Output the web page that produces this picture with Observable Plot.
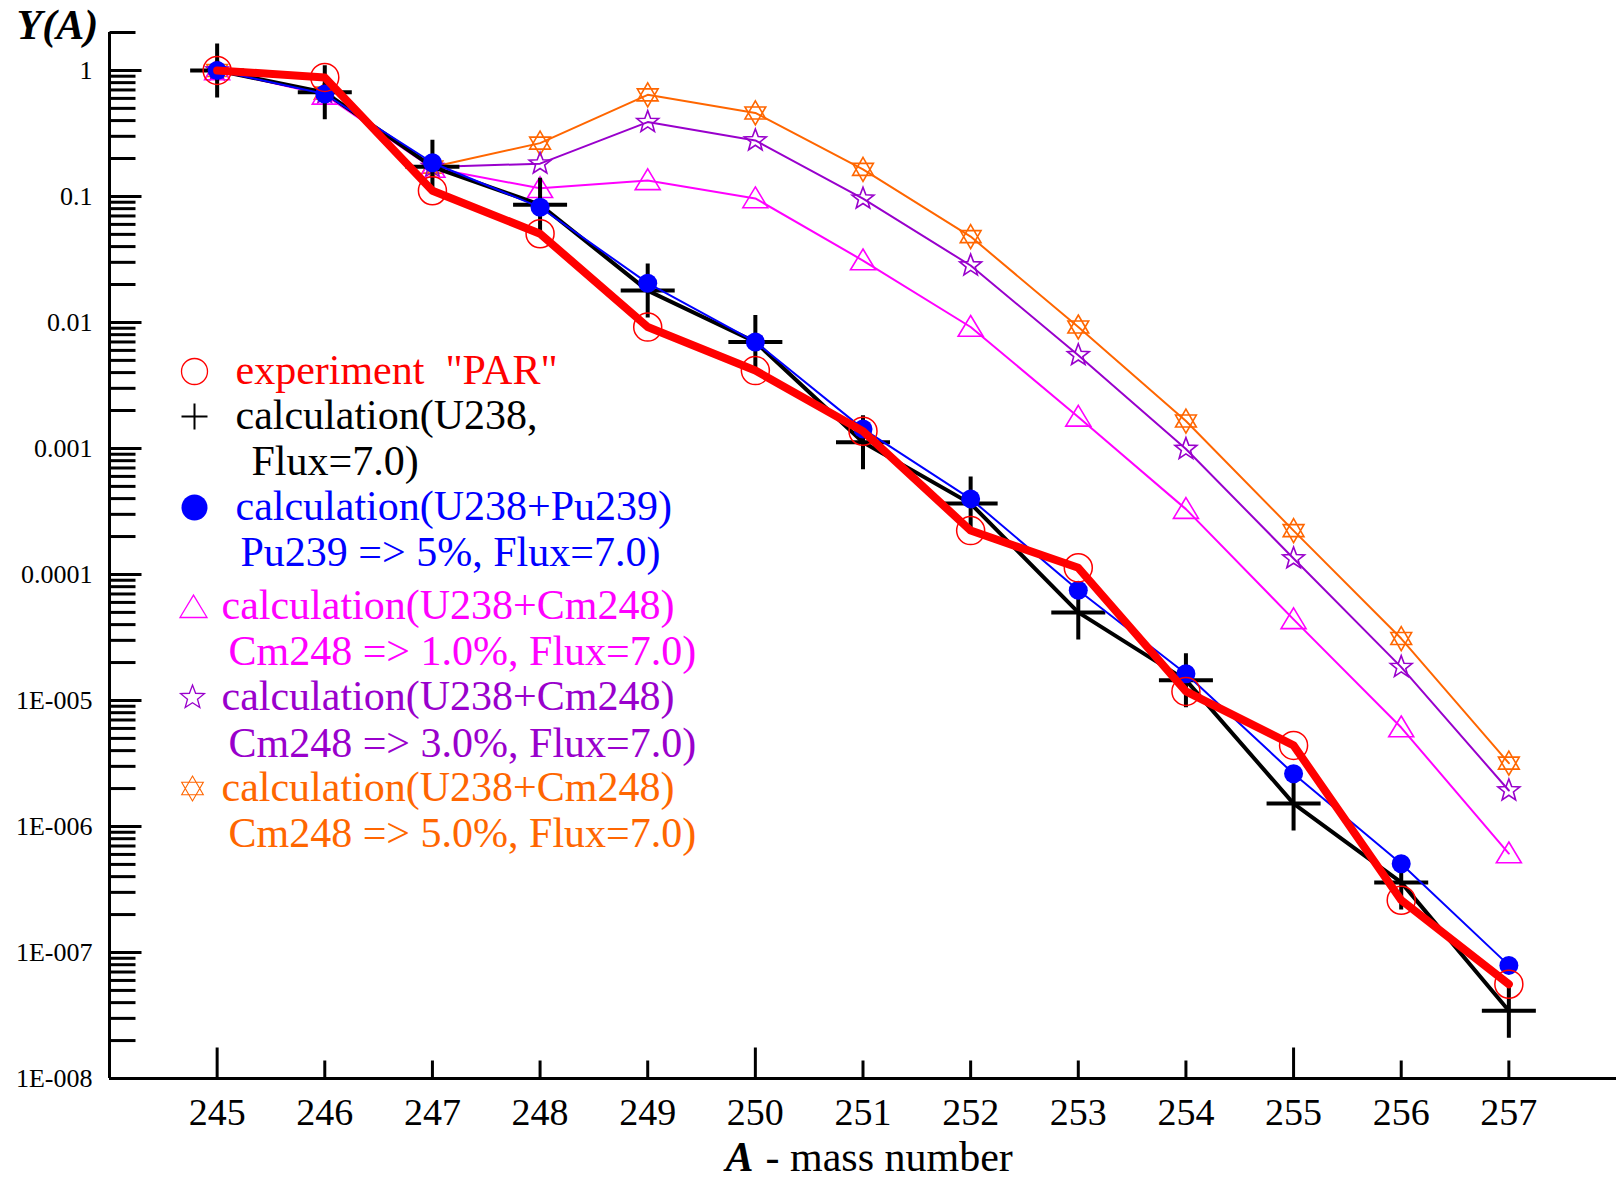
<!DOCTYPE html>
<html>
<head>
<meta charset="utf-8">
<script src="https://cdn.jsdelivr.net/npm/d3@7"></script>
<script src="https://cdn.jsdelivr.net/npm/@observablehq/plot@0.6"></script>
<style>
html, body { margin: 0; padding: 0; background: #ffffff; }
#chart svg { display: block; }
</style>
</head>
<body>
<div id="chart"></div>
<script>
// ---------- data ----------
const massNumbers = [245, 246, 247, 248, 249, 250, 251, 252, 253, 254, 255, 256, 257];
const experimentPAR = [1.0, 0.88, 0.111, 0.0506, 0.0092, 0.00415, 0.00137, 0.000223, 0.000113, 1.18e-5, 4.4e-6, 2.6e-7, 5.6e-8];
const calcU238      = [1.0, 0.67, 0.172, 0.086, 0.0179, 0.0070, 0.00112, 0.000365, 5.0e-5, 1.45e-5, 1.52e-6, 3.6e-7, 3.45e-8];
const calcPu239     = [1.0, 0.65, 0.185, 0.082, 0.0205, 0.0070, 0.00143, 0.000398, 7.5e-5, 1.63e-5, 2.62e-6, 5.06e-7, 7.9e-8];
const calcCm1       = [1.0, 0.64, 0.168, 0.116, 0.134, 0.0964, 0.031, 0.0092, 0.00178, 0.00033, 4.4e-5, 6.1e-6, 6.1e-7];
const calcCm3       = [1.0, 0.66, 0.171, 0.182, 0.389, 0.278, 0.096, 0.0283, 0.0055, 0.00099, 0.000134, 1.84e-5, 1.93e-6];
const calcCm5       = [1.0, 0.66, 0.171, 0.265, 0.64, 0.46, 0.164, 0.048, 0.0092, 0.00165, 0.000223, 3.1e-5, 3.18e-6];

const yMajorTicks = [1, 0.1, 0.01, 0.001, 0.0001, 1e-5, 1e-6, 1e-7, 1e-8];
const yTickLabels = ["1", "0.1", "0.01", "0.001", "0.0001", "1E-005", "1E-006", "1E-007", "1E-008"];
const xTickValues = [245, 246, 247, 248, 249, 250, 251, 252, 253, 254, 255, 256, 257];
const xMajorTicks = [245, 250, 255];
const xDomain = [244, 258];
const yDomain = [1e-8, 2];

const legendTexts = [
  ['experiment\u00a0\u00a0"PAR"'],
  ['calculation(U238,', 'Flux=7.0)'],
  ['calculation(U238+Pu239)', 'Pu239 => 5%, Flux=7.0)'],
  ['calculation(U238+Cm248)', 'Cm248 => 1.0%, Flux=7.0)'],
  ['calculation(U238+Cm248)', 'Cm248 => 3.0%, Flux=7.0)'],
  ['calculation(U238+Cm248)', 'Cm248 => 5.0%, Flux=7.0)']
];

// ---------- symbols ----------
const rOf = s => Math.sqrt(s / Math.PI);
const plusSym = {draw(c, s) { const r = rOf(s); c.moveTo(-r, 0); c.lineTo(r, 0); c.moveTo(0, -r); c.lineTo(0, r); }};
const triSym = {draw(c, s) { const r = rOf(s); c.moveTo(0, -0.92 * r); c.lineTo(r, 0.74 * r); c.lineTo(-r, 0.74 * r); c.closePath(); }};
const star5Sym = {draw(c, s) {
  const R = rOf(s), ri = R * 0.42;
  for (let i = 0; i < 10; i++) {
    const a = -Math.PI / 2 + i * Math.PI / 5, rr = i % 2 ? ri : R;
    const x = rr * Math.cos(a), y = rr * Math.sin(a);
    if (i) c.lineTo(x, y); else c.moveTo(x, y);
  }
  c.closePath();
}};
const hexagramSym = {draw(c, s) {
  const R = rOf(s);
  for (const off of [-Math.PI / 2, Math.PI / 2]) {
    for (let i = 0; i < 3; i++) {
      const a = off + i * 2 * Math.PI / 3, x = R * Math.cos(a), y = R * Math.sin(a);
      if (i) c.lineTo(x, y); else c.moveTo(x, y);
    }
    c.closePath();
  }
}};
const hTick = len => ({draw(c) { c.moveTo(0, 0); c.lineTo(len, 0); }});
const vTick = len => ({draw(c) { c.moveTo(0, 0); c.lineTo(0, -len); }});

// ---------- series styling ----------
const series = [
  {values: calcCm5, color: "#FF6600", width: 2, symbol: hexagramSym, r: 12, fill: "none", sw: 1.6},
  {values: calcCm3, color: "#9900CC", width: 2, symbol: star5Sym, r: 11.5, fill: "none", sw: 1.6},
  {values: calcCm1, color: "#FF00FF", width: 2, symbol: triSym, r: 12.5, fill: "none", sw: 1.6},
  {values: calcU238, color: "#000000", width: 4, symbol: plusSym, r: 27, fill: "none", sw: 4},
  {values: calcPu239, color: "#0000FF", width: 2, symbol: "circle", r: 9.5, fill: "#0000FF", sw: 0},
  {values: experimentPAR, color: "#FF0000", width: 8, symbol: "circle", r: 14, fill: "none", sw: 1.5}
];

const seriesMarks = series.flatMap(s => {
  const rows = massNumbers.map((a, i) => ({a, v: s.values[i]}));
  return [
    Plot.line(rows, {x: "a", y: "v", stroke: s.color, strokeWidth: s.width, strokeLinejoin: "round"}),
    Plot.dot(rows, {x: "a", y: "v", symbol: s.symbol, r: s.r, fill: s.fill, stroke: s.sw ? s.color : "none", strokeWidth: s.sw})
  ];
});

// ---------- axes ----------
const yMinorTicks = [];
for (let k = -8; k <= 0; k++) {
  for (let m = 2; m <= 9; m++) {
    const v = m * Math.pow(10, k);
    if (v <= yDomain[1] * 1.0001) yMinorTicks.push(v);
  }
}
const xMinorTicks = xTickValues.filter(v => !xMajorTicks.includes(v));

const axisMarks = [
  Plot.ruleX([xDomain[0]], {stroke: "black", strokeWidth: 3}),
  Plot.ruleY([yDomain[0]], {stroke: "black", strokeWidth: 3}),
  Plot.dot(yMajorTicks, {y: d => d, frameAnchor: "left", symbol: hTick(32), fill: "none", stroke: "black", strokeWidth: 3}),
  Plot.dot(yMinorTicks, {y: d => d, frameAnchor: "left", symbol: hTick(26), fill: "none", stroke: "black", strokeWidth: 3}),
  Plot.text(yMajorTicks, {y: d => d, text: (d, i) => yTickLabels[i], frameAnchor: "left", textAnchor: "end", dx: -17, lineAnchor: "middle", fontSize: 26, fill: "black"}),
  Plot.dot(xMajorTicks, {x: d => d, frameAnchor: "bottom", symbol: vTick(31), fill: "none", stroke: "black", strokeWidth: 3}),
  Plot.dot(xMinorTicks, {x: d => d, frameAnchor: "bottom", symbol: vTick(18), fill: "none", stroke: "black", strokeWidth: 3}),
  Plot.text(xTickValues, {x: d => d, text: d => String(d), frameAnchor: "bottom", dy: 46, lineAnchor: "bottom", fontSize: 38, fill: "black"}),
  // axis titles
  Plot.text(["Y(A)"], {frameAnchor: "top-left", dx: -93, dy: 6, textAnchor: "start", lineAnchor: "bottom", fontSize: 42, fontWeight: "bold", fontStyle: "italic", fill: "black"}),
  Plot.text(["A"], {frameAnchor: "bottom-left", dx: 616, dy: 92, textAnchor: "start", lineAnchor: "bottom", fontSize: 42, fontWeight: "bold", fontStyle: "italic", fill: "black"}),
  Plot.text(["- mass number"], {frameAnchor: "bottom-left", dx: 656, dy: 92, textAnchor: "start", lineAnchor: "bottom", fontSize: 42, fill: "black"})
];

// ---------- legend (pixel layout) ----------
const frameLeft = 109, frameTop = 32;
const legendLayout = [
  {color: "#FF0000", symbol: "circle", r: 13, fill: "none", sw: 1.3, sx: 194, sy: 371, lines: [[235, 383]]},
  {color: "#000000", symbol: plusSym, r: 13, fill: "none", sw: 2, sx: 194, sy: 416, lines: [[235, 428], [251, 474]]},
  {color: "#0000FF", symbol: "circle", r: 13, fill: "#0000FF", sw: 0, sx: 194, sy: 507, lines: [[235, 519], [240, 565]]},
  {color: "#FF00FF", symbol: triSym, r: 13.5, fill: "none", sw: 1.3, sx: 193, sy: 607, lines: [[221, 618], [228, 664]]},
  {color: "#9900CC", symbol: star5Sym, r: 12.5, fill: "none", sw: 1.3, sx: 192, sy: 697, lines: [[221, 709], [228, 756]]},
  {color: "#FF6600", symbol: hexagramSym, r: 12.5, fill: "none", sw: 1.1, sx: 192, sy: 788, lines: [[221, 800], [228, 846]]}
];
const legendMarks = legendLayout.flatMap((L, k) => [
  Plot.dot([0], {frameAnchor: "top-left", dx: L.sx - frameLeft, dy: L.sy - frameTop, symbol: L.symbol, r: L.r, fill: L.fill, stroke: L.sw ? L.color : "none", strokeWidth: L.sw}),
  ...L.lines.map(([x, y], j) => Plot.text([legendTexts[k][j]], {frameAnchor: "top-left", dx: x - frameLeft, dy: y - frameTop, textAnchor: "start", lineAnchor: "bottom", fontSize: 42, fill: L.color}))
]);

const chart = Plot.plot({
  width: 1624,
  height: 1177,
  marginLeft: frameLeft,
  marginRight: 8,
  marginTop: frameTop,
  marginBottom: 99,
  style: {fontFamily: "'Liberation Serif', 'Times New Roman', serif", background: "#ffffff", color: "black", overflow: "visible"},
  x: {domain: xDomain, axis: null},
  y: {type: "log", domain: yDomain, axis: null},
  marks: [...axisMarks, ...seriesMarks, ...legendMarks]
});
document.getElementById("chart").appendChild(chart);
</script>
</body>
</html>
